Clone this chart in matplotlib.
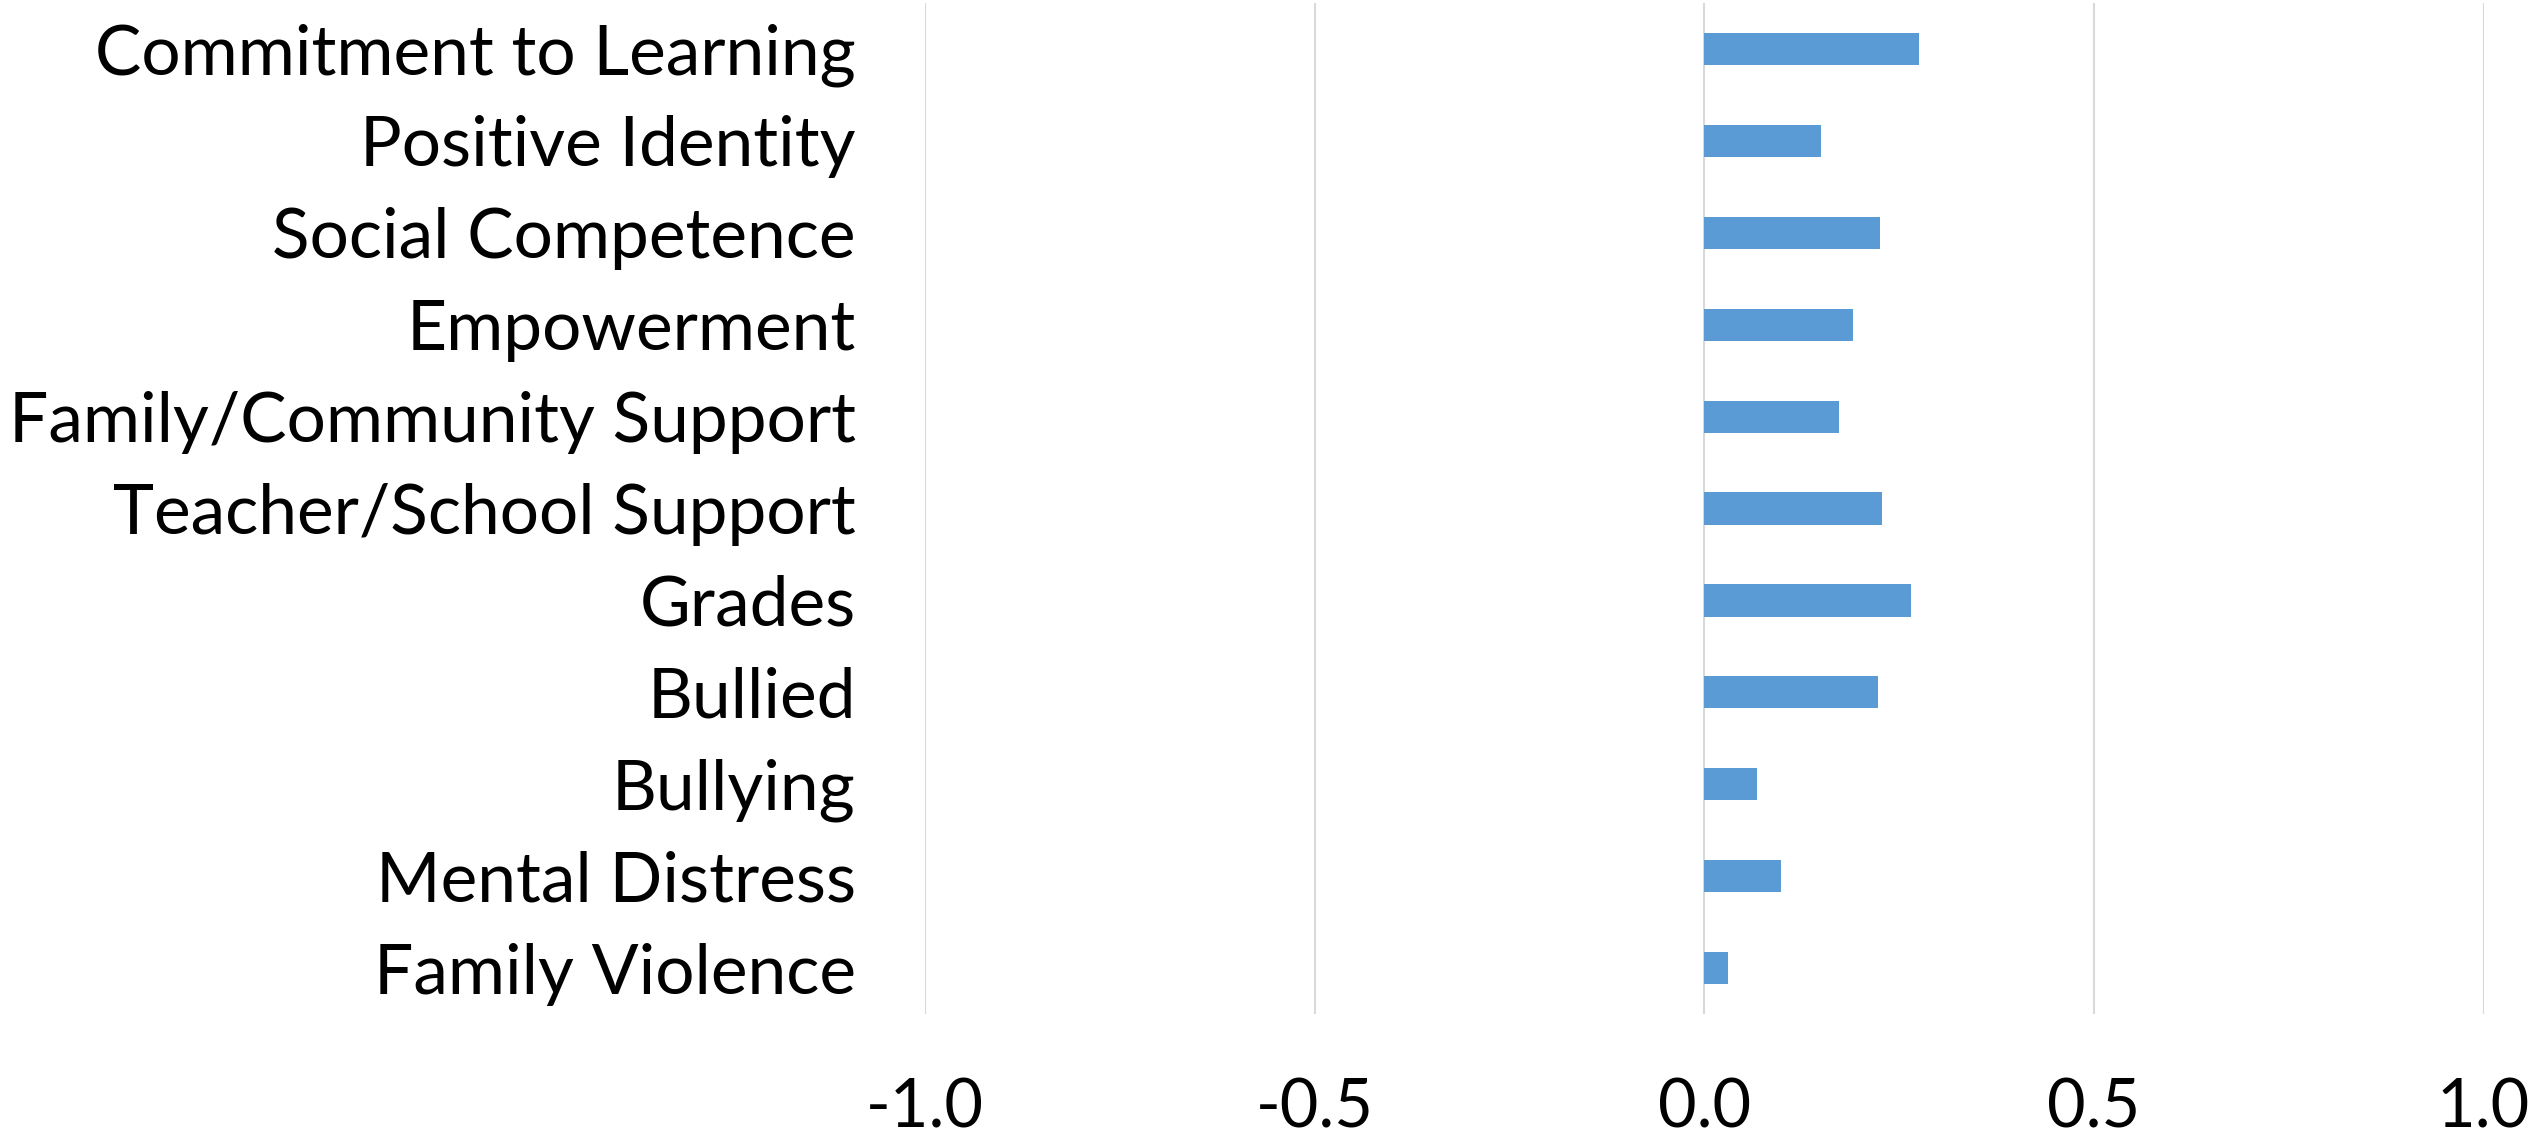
import matplotlib.pyplot as plt
import numpy as np

plt.rcParams['font.family'] = ['Lato', 'DejaVu Sans']

# data (top to bottom as shown)
categories = ['Commitment to Learning', 'Positive Identity', 'Social Competence',
              'Empowerment', 'Family/Community Support', 'Teacher/School Support',
              'Grades', 'Bullied', 'Bullying', 'Mental Distress', 'Family Violence']
values = [0.276, 0.149, 0.226, 0.191, 0.173, 0.228, 0.265, 0.223, 0.067, 0.098, 0.030]
xticks = [-1.0, -0.5, 0.0, 0.5, 1.0]

fig = plt.figure(figsize=(25.42, 11.39), dpi=100)
ax = fig.add_axes([0.364, 0.1097, 0.613, 0.8877])

y = np.arange(len(categories))
ax.barh(y, values, height=0.35, color='#5B9BD5', zorder=3)

ax.set_ylim(len(categories) - 0.5, -0.5)
ax.set_xlim(-1.0, 1.0)
ax.set_yticks(y)
ax.set_yticklabels(categories, fontsize=50)
ax.set_xticks(xticks)
ax.set_xticklabels([f"{t:.1f}" for t in xticks], fontsize=48)
ax.tick_params(axis='y', length=0, pad=50)
ax.tick_params(axis='x', length=0, pad=46)

ax.grid(axis='x', color='#D9D9D9', lw=1.5, zorder=0)
for s in ax.spines.values():
    s.set_visible(False)

plt.savefig("out.png", dpi=100)
